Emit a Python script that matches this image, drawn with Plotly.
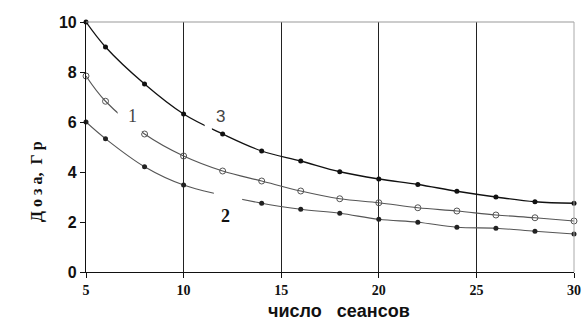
import plotly.graph_objects as go

# Data
sessions = [5, 6, 8, 10, 12, 14, 16, 18, 20, 22, 24, 26, 28, 30]
dose_3 = [10.0, 9.0, 7.52, 6.32, 5.52, 4.84, 4.44, 4.01, 3.72, 3.5, 3.23, 3.0, 2.81, 2.75]
dose_1 = [7.84, 6.83, 5.52, 4.64, 4.04, 3.64, 3.24, 2.93, 2.77, 2.57, 2.44, 2.28, 2.17, 2.04]
sessions_2 = [5, 6, 8, 10, 14, 16, 18, 20, 22, 24, 26, 28, 30]
dose_2 = [6.0, 5.33, 4.21, 3.48, 2.75, 2.51, 2.35, 2.11, 1.99, 1.79, 1.75, 1.63, 1.52]

x_ticks = [5, 10, 15, 20, 25, 30]
y_ticks = [0, 2, 4, 6, 8, 10]

fig = go.Figure()

fig.add_trace(go.Scatter(
    x=sessions, y=dose_3, mode="lines+markers", line_shape="spline",
    line=dict(color="#111111", width=1.3),
    marker=dict(symbol="circle", size=5, color="#111111"),
    cliponaxis=False, showlegend=False))
fig.add_trace(go.Scatter(
    x=sessions, y=dose_1, mode="lines+markers", line_shape="spline",
    line=dict(color="#555555", width=1.1),
    marker=dict(symbol="circle-open", size=6, color="#555555", line=dict(width=1)),
    cliponaxis=False, showlegend=False))
fig.add_trace(go.Scatter(
    x=sessions_2, y=dose_2, mode="lines+markers", line_shape="spline",
    line=dict(color="#555555", width=1.1),
    marker=dict(symbol="circle", size=5, color="#222222"),
    cliponaxis=False, showlegend=False))

# white masks producing the breaks in the curves where labels sit
gaps = [(6.62, 7.86, 5.55, 6.7), (11.08, 11.45, 5.5, 6.1), (11.55, 13.0, 2.6, 3.4)]
for x0, x1, y0, y1 in gaps:
    fig.add_shape(type="rect", x0=x0, x1=x1, y0=y0, y1=y1, xref="x", yref="y",
                  fillcolor="white", line=dict(width=0), layer="above")

# borders top and right
fig.add_shape(type="line", xref="paper", yref="paper", x0=0, x1=1, y0=1, y1=1,
              line=dict(color="#999999", width=1))
fig.add_shape(type="line", xref="paper", yref="paper", x0=1, x1=1, y0=0, y1=1,
              line=dict(color="#aaaaaa", width=1))

fig.add_annotation(x=7.36, y=6.24, text="1", showarrow=False,
                   font=dict(family="Liberation Serif", size=18, color="#444444"))
fig.add_annotation(x=11.87, y=6.24, text="3", showarrow=False,
                   font=dict(family="Liberation Sans", size=17, color="#444444"))
fig.add_annotation(x=12.13, y=2.24, text="<b>2</b>", showarrow=False,
                   font=dict(family="Liberation Serif", size=18, color="#111111"))

fig.add_annotation(xref="paper", yref="paper", x=-0.123, y=0.364,
                   text="<b>Д о з а,  Г р</b>", textangle=-90, showarrow=False,
                   font=dict(family="Liberation Serif", size=16, color="#111111"))
fig.add_annotation(xref="paper", yref="paper", x=0.518, y=-0.156,
                   text="<b>число   сеансов</b>", showarrow=False, yanchor="middle",
                   font=dict(family="Liberation Sans", size=18, color="#111111"))

fig.update_xaxes(range=[5, 30], tickvals=x_ticks, ticktext=[f"<b>{v}</b>" for v in x_ticks],
                 showgrid=True, gridcolor="#222222", gridwidth=1,
                 showline=True, linecolor="#111111", linewidth=1.2,
                 ticks="outside", ticklen=5, tickcolor="#111111",
                 tickfont=dict(family="Liberation Serif", size=14, color="#111111"),
                 zeroline=False, automargin=False)
fig.update_yaxes(range=[0, 10], tickvals=y_ticks, ticktext=[f"<b>{v}</b>" for v in y_ticks],
                 showgrid=False, showline=True, linecolor="#111111", linewidth=1.2,
                 ticks="outside", ticklen=5, tickcolor="#111111",
                 tickfont=dict(family="Liberation Sans", size=16, color="#111111"),
                 zeroline=False, automargin=False)

fig.update_layout(width=585, height=323, margin=dict(l=86, r=11, t=22, b=51),
                  plot_bgcolor="white", paper_bgcolor="white")

# remove the default 8px page margin so the figure fills the window exactly
fig.write_html("out.html", config={"displayModeBar": False},
               post_script="document.body.style.margin='0';document.body.style.overflow='hidden';")
